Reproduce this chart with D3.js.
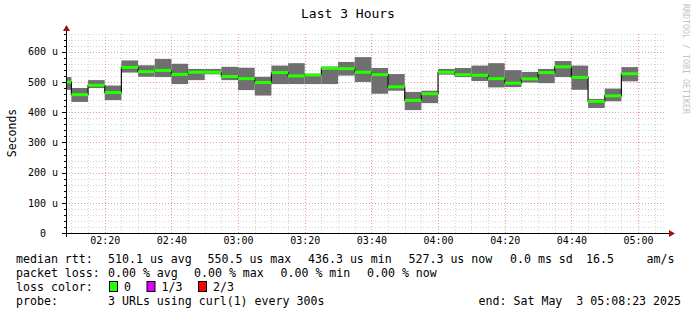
<!DOCTYPE html>
<html>
<head>
<meta charset="utf-8">
<script src="https://cdn.jsdelivr.net/npm/d3@7"></script>
<style>
  body { margin: 0; background: #fff; }
  svg text { font-family: "DejaVu Sans Mono", monospace; white-space: pre; }
</style>
</head>
<body>
<div id="chart"></div>
<script>
// bar end times (5 min steps), first one is clipped at graph start
var endTimes = ["02:10","02:15","02:20","02:25","02:30","02:35","02:40","02:45","02:50","02:55",
                "03:00","03:05","03:10","03:15","03:20","03:25","03:30","03:35","03:40","03:45",
                "03:50","03:55","04:00","04:05","04:10","04:15","04:20","04:25","04:30","04:35",
                "04:40","04:45","04:50","04:55","05:00"];
// median rtt in microseconds
var median = [500,458,489,465,548,534,538,525,532,532,518,511,498,531,520,523,545,544,532,524,
              484,439,461,532,524,522,511,496,510,531,550,515,436,454,527];
// smoke top / bottom
var maxRtt = [516,480,506,488,571,555,576,560,543,543,550,547,517,554,562,527,551,566,582,546,
              526,467,471,543,546,554,562,539,533,543,569,554,444,478,549];
var minRtt = [474,434,480,440,531,517,516,493,506,525,506,473,455,493,493,493,493,521,500,461,
              471,407,430,524,516,503,482,483,498,496,516,474,414,436,502];
var yTicks = [0,100,200,300,400,500,600];
var xTickLabels = ["02:20","02:40","03:00","03:20","03:40","04:00","04:20","04:40","05:00"];
var lossLabels = ["0","1/3","2/3"];
var lossColors = ["#26ff00","#dd00ff","#ff0000"];

var W = 697, H = 315;
var svg = d3.select("#chart").append("svg").attr("width", W).attr("height", H);

function t(s) {
    var p = s.split(":");
    return new Date(2025, 4, 3, +p[0], +p[1], p[2] ? +p[2] : 0);
}
var start = t("02:08:23"), end = t("05:08:23");

var x = d3.scaleTime().domain([start, end]).range([66, 666]);
var y = d3.scaleLinear().domain([0, 660]).range([233.3, 33.5]);

// grid
var grid = svg.append("g");
var minorY = d3.range(0, 661, 20);
grid.selectAll("line.hy").data(minorY).enter().append("line")
    .attr("x1", 66).attr("x2", 666)
    .attr("y1", function(d) { return Math.round(y(d)) + 0.5; })
    .attr("y2", function(d) { return Math.round(y(d)) + 0.5; })
    .attr("stroke", function(d) { return d % 100 == 0 ? "#e89a9a" : "#d4d4d4"; })
    .attr("stroke-dasharray", "1,2");
var minorX = d3.timeMinute.every(5).range(start, end);
grid.selectAll("line.vx").data(minorX).enter().append("line")
    .attr("y1", 233).attr("y2", 33)
    .attr("x1", function(d) { return Math.round(x(d)) + 0.5; })
    .attr("x2", function(d) { return Math.round(x(d)) + 0.5; })
    .attr("stroke", function(d) { return d.getMinutes() % 20 == 0 ? "#e89a9a" : "#d4d4d4"; })
    .attr("stroke-dasharray", "1,2");

// bars
var bars = endTimes.map(function(e, i) {
    var te = t(e);
    var ts = new Date(te.getTime() - 5 * 60000);
    if (ts < start) ts = start;
    return { x0: x(ts), x1: x(te), med: median[i], hi: maxRtt[i], lo: minRtt[i] };
});

svg.append("g").selectAll("rect").data(bars).enter().append("rect")
    .attr("x", function(d) { return d.x0; })
    .attr("width", function(d) { return d.x1 - d.x0; })
    .attr("y", function(d) { return y(d.hi); })
    .attr("height", function(d) { return y(d.lo) - y(d.hi); })
    .attr("fill", "#6f6f6f");

// step line of medians (black verticals)
var stepPts = [];
bars.forEach(function(d) { stepPts.push([d.x0, y(d.med)]); stepPts.push([d.x1, y(d.med)]); });
svg.append("path")
    .attr("d", d3.line()(stepPts))
    .attr("fill", "none")
    .attr("stroke", "#111")
    .attr("stroke-width", 1.2);

svg.append("g").selectAll("line").data(bars).enter().append("line")
    .attr("x1", function(d) { return d.x0; })
    .attr("x2", function(d) { return d.x1; })
    .attr("y1", function(d) { return y(d.med); })
    .attr("y2", function(d) { return y(d.med); })
    .attr("stroke", lossColors[0])
    .attr("stroke-width", 3);

// axes
var axisCol = "#000";
svg.append("line").attr("x1", 66.5).attr("x2", 66.5).attr("y1", 237).attr("y2", 30)
    .attr("stroke", axisCol);
svg.append("line").attr("x1", 62).attr("x2", 670).attr("y1", 233.5).attr("y2", 233.5)
    .attr("stroke", axisCol);
svg.append("path").attr("d", "M63,31L66.5,25L70,31Z").attr("fill", "#a01010");
svg.append("path").attr("d", "M669,230L675,233.5L669,237Z").attr("fill", "#a01010");

// small ticks
svg.append("g").selectAll("line").data(minorY).enter().append("line")
    .attr("x1", function(d) { return d % 100 == 0 ? 62 : 64; }).attr("x2", 66)
    .attr("y1", function(d) { return Math.round(y(d)) + 0.5; })
    .attr("y2", function(d) { return Math.round(y(d)) + 0.5; })
    .attr("stroke", "#000");

var yAxis = d3.axisLeft(y).tickValues(yTicks).tickSize(0).tickPadding(0)
    .tickFormat(function(d) { return d == 0 ? "0  " : d + " u"; });
svg.append("g").attr("transform", "translate(58,0)").call(yAxis)
    .call(function(g) { g.select(".domain").remove(); })
    .selectAll("text")
    .attr("font-family", "DejaVu Sans Mono")
    .attr("font-size", 10)
    .attr("fill", "#000");

var xAxis = d3.axisBottom(x)
    .tickValues(xTickLabels.map(t)).tickSize(0).tickPadding(0)
    .tickFormat(d3.timeFormat("%H:%M"));
svg.append("g").attr("transform", "translate(0,237)").call(xAxis)
    .call(function(g) { g.select(".domain").remove(); })
    .selectAll("text")
    .attr("font-family", "DejaVu Sans Mono")
    .attr("font-size", 10)
    .attr("fill", "#000");

// title and labels
svg.append("text").attr("x", 348).attr("y", 18).attr("text-anchor", "middle")
    .attr("font-size", 13).text("Last 3 Hours");
svg.append("text").attr("transform", "translate(16,133)rotate(-90)")
    .attr("text-anchor", "middle").attr("font-size", 11.5).text("Seconds");
svg.append("text").attr("transform", "translate(683,4)rotate(90)")
    .attr("font-size", 8.3).attr("fill", "#c4c4c4").text("RRDTOOL / TOBI OETIKER");

// legend
var fs = 11.6;
function txt(xp, yp, s, anchor) {
    svg.append("text").attr("x", xp).attr("y", yp).attr("font-size", fs)
        .attr("text-anchor", anchor || "start").text(s);
}
var r1 = 263, r2 = 277, r3 = 291, r4 = 305;
txt(16, r1, "median rtt:");
txt(108, r1, "510.1 us avg");
txt(207.5, r1, "550.5 us max");
txt(308, r1, "436.3 us min");
txt(408.5, r1, "527.3 us now");
txt(510, r1, "0.0 ms sd");
txt(586, r1, "16.5");
txt(646.5, r1, "am/s");

txt(16, r2, "packet loss:");
txt(108, r2, "0.00 % avg");
txt(194, r2, "0.00 % max");
txt(280.5, r2, "0.00 % min");
txt(367, r2, "0.00 % now");

txt(16, r3, "loss color:");
var boxX = [109, 146.5, 198];
lossLabels.forEach(function(l, i) {
    svg.append("rect").attr("x", boxX[i] + 0.5).attr("y", r3 - 9.5).attr("width", 8).attr("height", 10)
        .attr("fill", lossColors[i]).attr("stroke", "#000");
    txt(boxX[i] + 15, r3, l);
});

txt(16, r4, "probe:");
txt(108, r4, "3 URLs using curl(1) every 300s");
txt(681, r4, "end: Sat May  3 05:08:23 2025", "end");
</script>
</body>
</html>
